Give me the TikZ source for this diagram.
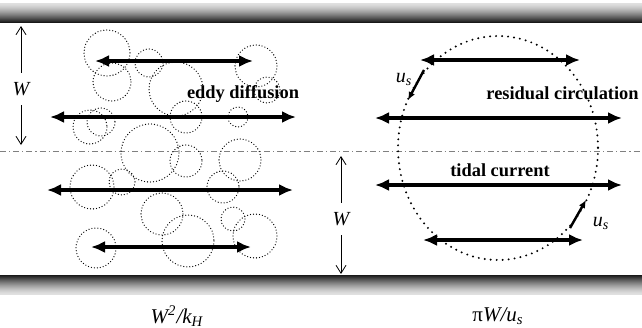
\documentclass[tikz,border=0pt]{standalone}
\usepackage{fontspec}
\setmainfont{Liberation Serif}
\usetikzlibrary{arrows.meta,positioning}

\begin{document}
\begin{tikzpicture}[
  x=0.5pt, y=-0.5pt,
  flow/.style={{Latex[length=7pt,width=6pt]}-{Latex[length=7pt,width=6pt]},line width=1.8pt},
  dimarr/.style={-{Straight Barb[length=4pt,width=5pt]},line width=0.4pt},
  speed/.style={-{Latex[length=4pt,width=3.5pt]},line width=1.2pt},
  eddy/.style={black,line width=0.65pt,dash pattern=on 0pt off 1.5pt,line cap=round},
  orbit/.style={line width=1.1pt,dash pattern=on 0pt off 3pt,line cap=round},
  lbl/.style={font=\fontsize{9.2}{11}\selectfont\bfseries,inner sep=1pt},
  sym/.style={font=\fontsize{10}{12}\selectfont\itshape,inner sep=1pt},
  wlabel/.style={sym,minimum height=16pt},
  timelbl/.style={sym,font=\fontsize{10.5}{12}\selectfont\itshape}
]
\clip (0,0) rectangle (642,327);
\fill[white] (0,0) rectangle (642,327);

% --- walls (dark towards the water) and centre line ---
\foreach \i in {0,...,19}{
  \pgfmathsetmacro\k{12+78*(\i/19)^1.4}
  \fill[black!\k] (0,3+\i) rectangle (642,4.05+\i);
  \fill[black!\k] (0,295-\i) rectangle (642,293.95-\i);
}
\draw[gray,line width=0.4pt,dash pattern=on 3pt off 1.5pt on 0.6pt off 1.5pt] (0,151) -- (642,151);

% --- eddies ---
\foreach \cx/\cy/\r in {107/53/23, 112/82/19, 149/63/14, 176/89/27, 256/66/21,
                        267/90/13, 186/117/16, 238/117/10, 90/127/17, 101/122/14,
                        150/153/29, 186/161/16, 240/160/21, 92/187/22, 122/182/13,
                        223/187/16, 162/214/21, 188/241/26, 233/219/12, 255/236/22,
                        96/248/20}
  \draw[eddy] (\cx,\cy) circle [radius=\r];

% --- residual circulation ---
\draw[orbit] (498,148) ellipse [x radius=100, y radius=112];

% --- tidal excursions ---
\foreach \y/\a/\b in {61/95/253, 117/50/296, 190/47/293, 247/91/251,
                      60/420/580, 118/375/622, 185/375/622, 240/423/583}
  \draw[flow] (\a,\y) -- (\b,\y);

% --- labels ---
\node[lbl] (eddylbl) at (243,94) {eddy diffusion};
\node[lbl,anchor=east] (residlbl) at (641,93) {residual circulation};
\node[lbl] (tidallbl) at (500,170) {tidal current};

\node[sym] (us1) at (404,79) {u\textsubscript{s}};
\node[sym] (us2) at (601,223) {u\textsubscript{s}};
\draw[speed] (424,70) -- (408,100);
\draw[speed] (570,228) -- (586,200);

% --- widths ---
\node[wlabel] (wleft) at (21,89) {W};
\coordinate (wlefttop) at (21,26);
\coordinate (wleftbot) at (21,145);
\draw[dimarr] (wleft) -- (wlefttop);
\draw[dimarr] (wleft) -- (wleftbot);

\node[wlabel] (wright) at (341,219) {W};
\coordinate (wrighttop) at (341,156);
\coordinate (wrightbot) at (341,274);
\draw[dimarr] (wright) -- (wrighttop);
\draw[dimarr] (wright) -- (wrightbot);

% --- time scales ---
\node[timelbl] (tdiff) at (177,316) {W\textsuperscript{2}/k\textsubscript{H}};
\node[timelbl] (tcirc) at (498,316) {{\upshape π}W/u\textsubscript{s}};
\end{tikzpicture}
\end{document}
